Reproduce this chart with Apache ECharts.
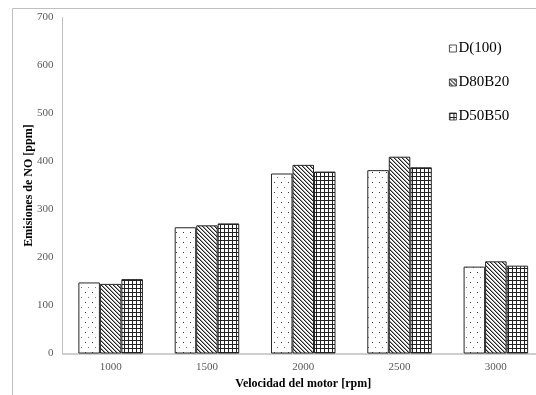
<!DOCTYPE html>
<html>
<head>
<meta charset="utf-8">
<script src="https://cdn.jsdelivr.net/npm/echarts@6/dist/echarts.min.js"></script>
<style>
  html, body { margin: 0; padding: 0; background: #fff; }
  #chart { width: 536px; height: 395px; }
</style>
</head>
<body>
<div id="chart"></div>
<script>
// Engine speeds (rpm) and NO emissions (ppm) per fuel blend
const speeds = ['1000', '1500', '2000', '2500', '3000'];
const seriesNames = ['D(100)', 'D80B20', 'D50B50'];
const d100 = [148, 263, 375, 382, 181];
const d80b20 = [145, 267, 393, 410, 192];
const d50b50 = [155, 271, 379, 388, 183];

// Small repeating tiles used as bar fills
function tile(w, h, draw) {
  const c = document.createElement('canvas');
  c.width = w; c.height = h;
  const ctx = c.getContext('2d');
  ctx.fillStyle = '#fff';
  ctx.fillRect(0, 0, w, h);
  draw(ctx);
  return { image: c, repeat: 'repeat' };
}
const dots = tile(7, 10, ctx => {
  ctx.fillStyle = '#333';
  ctx.fillRect(1, 2, 1, 1);
  ctx.fillStyle = '#777';
  ctx.fillRect(4, 7, 1, 1);
});
const diag = tile(4, 4, ctx => {
  for (let y = 0; y < 4; y++) {
    ctx.fillStyle = '#222';
    ctx.fillRect(y, y, 1, 1);
    ctx.fillStyle = '#999';
    ctx.fillRect((y + 1) % 4, y, 1, 1);
  }
});
const cross = tile(4, 4, ctx => {
  ctx.fillStyle = '#222';
  ctx.fillRect(0, 0, 4, 1);
  ctx.fillRect(0, 0, 1, 4);
});

const serif = '"Liberation Serif", "Times New Roman", serif';
const barStyle = fill => ({ color: fill, borderColor: '#262626', borderWidth: 1 });

const chart = echarts.init(document.getElementById('chart'), null, { renderer: 'canvas' });
chart.setOption({
  animation: false,
  backgroundColor: '#fff',
  textStyle: { fontFamily: serif },
  grid: { left: 62.5, right: -8, top: 17.5, bottom: 41.5, containLabel: false, outerBoundsMode: 'none' },
  legend: {
    orient: 'vertical',
    left: 449,
    top: 41,
    padding: 0,
    icon: 'rect',
    itemWidth: 7,
    itemHeight: 7,
    itemGap: 19,
    itemStyle: { borderWidth: 0.8 },
    textStyle: { fontFamily: serif, fontSize: 15, color: '#000', lineHeight: 15, padding: [0, 0, 0, -3] },
    data: seriesNames
  },
  xAxis: {
    type: 'category',
    data: speeds,
    name: 'Velocidad del motor [rpm]',
    nameLocation: 'middle',
    nameGap: 24,
    nameMoveOverlap: false,
    nameTextStyle: { fontFamily: serif, fontSize: 12, fontWeight: 'bold', color: '#000' },
    axisLine: { lineStyle: { color: '#bfbfbf', width: 1.5 } },
    axisTick: { show: false },
    axisLabel: { fontFamily: serif, fontSize: 11, color: '#595959', margin: 8 }
  },
  yAxis: {
    type: 'value',
    min: 0,
    max: 700,
    interval: 100,
    name: 'Emisiones de NO [ppm]',
    nameLocation: 'middle',
    nameRotate: 90,
    nameGap: 28,
    nameMoveOverlap: false,
    nameTextStyle: { fontFamily: serif, fontSize: 12, fontWeight: 'bold', color: '#000' },
    axisLine: { show: true, lineStyle: { color: '#bfbfbf', width: 1 } },
    axisTick: { show: false },
    splitLine: { show: false },
    axisLabel: { fontFamily: serif, fontSize: 11, color: '#595959', margin: 9 }
  },
  series: [
    { name: seriesNames[0], type: 'bar', data: d100, itemStyle: barStyle(dots), barGap: '0%', barCategoryGap: '33%' },
    { name: seriesNames[1], type: 'bar', data: d80b20, itemStyle: barStyle(diag), barGap: '0%', barCategoryGap: '33%' },
    { name: seriesNames[2], type: 'bar', data: d50b50, itemStyle: barStyle(cross), barGap: '0%', barCategoryGap: '33%' }
  ],
  graphic: [
    { type: 'line', shape: { x1: 12.5, y1: 8.5, x2: 536, y2: 8.5 }, style: { stroke: '#bfbfbf', lineWidth: 1 }, silent: true },
    { type: 'line', shape: { x1: 12.5, y1: 8.5, x2: 12.5, y2: 395 }, style: { stroke: '#bfbfbf', lineWidth: 1 }, silent: true }
  ]
});
</script>
</body>
</html>
